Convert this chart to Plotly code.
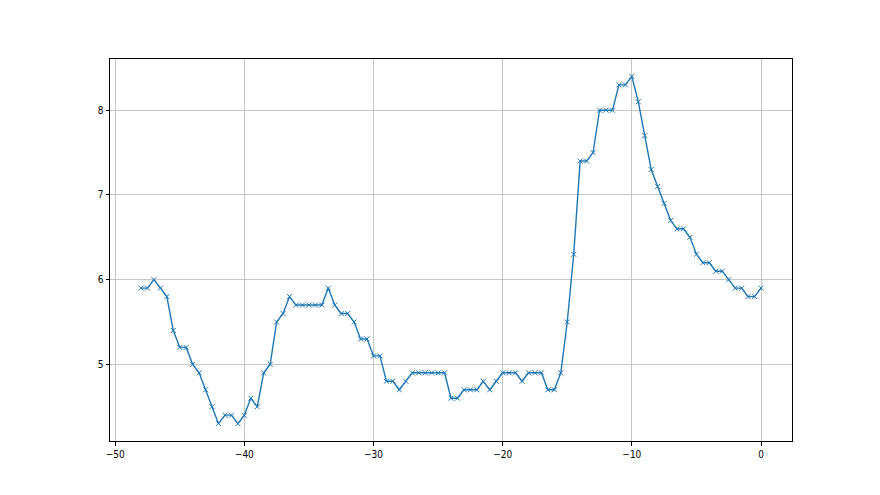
import plotly.graph_objects as go

x_values = [i * 0.5 - 48 for i in range(97)]
y_values = [
    5.9, 5.9, 6.0, 5.9, 5.8, 5.4, 5.2, 5.2, 5.0, 4.9,
    4.7, 4.5, 4.3, 4.4, 4.4, 4.3, 4.4, 4.6, 4.5, 4.9,
    5.0, 5.5, 5.6, 5.8, 5.7, 5.7, 5.7, 5.7, 5.7, 5.9,
    5.7, 5.6, 5.6, 5.5, 5.3, 5.3, 5.1, 5.1, 4.8, 4.8,
    4.7, 4.8, 4.9, 4.9, 4.9, 4.9, 4.9, 4.9, 4.6, 4.6,
    4.7, 4.7, 4.7, 4.8, 4.7, 4.8, 4.9, 4.9, 4.9, 4.8,
    4.9, 4.9, 4.9, 4.7, 4.7, 4.9, 5.5, 6.3, 7.4, 7.4,
    7.5, 8.0, 8.0, 8.0, 8.3, 8.3, 8.4, 8.1, 7.7, 7.3,
    7.1, 6.9, 6.7, 6.6, 6.6, 6.5, 6.3, 6.2, 6.2, 6.1,
    6.1, 6.0, 5.9, 5.9, 5.8, 5.8, 5.9,
]
x_ticks = [-50, -40, -30, -20, -10, 0]
y_ticks = [5, 6, 7, 8]

fig = go.Figure()
fig.add_trace(go.Scatter(
    x=x_values, y=y_values, mode="lines+markers",
    line=dict(color="#1f77b4", width=1.4),
    marker=dict(symbol="x-thin", size=5, color="#1f77b4",
                line=dict(color="#1f77b4", width=1)),
    showlegend=False,
))

axis_common = dict(
    showgrid=True, gridcolor="#c6c6c6", gridwidth=1,
    showline=True, linecolor="black", linewidth=1, mirror=True,
    ticks="outside", ticklen=3.5, tickwidth=0.8, tickcolor="black",
    zeroline=False,
    tickfont=dict(family="DejaVu Sans Condensed, DejaVu Sans", size=10, color="black"),
)
fig.update_xaxes(range=[-50.4, 2.4], tickvals=x_ticks, **axis_common)
fig.update_yaxes(range=[4.095, 8.605], tickvals=y_ticks, **axis_common)

fig.update_layout(
    width=880, height=495,
    margin=dict(l=102, r=96, t=51, b=62),
    paper_bgcolor="white", plot_bgcolor="white",
)
fig.write_html("out.html")
